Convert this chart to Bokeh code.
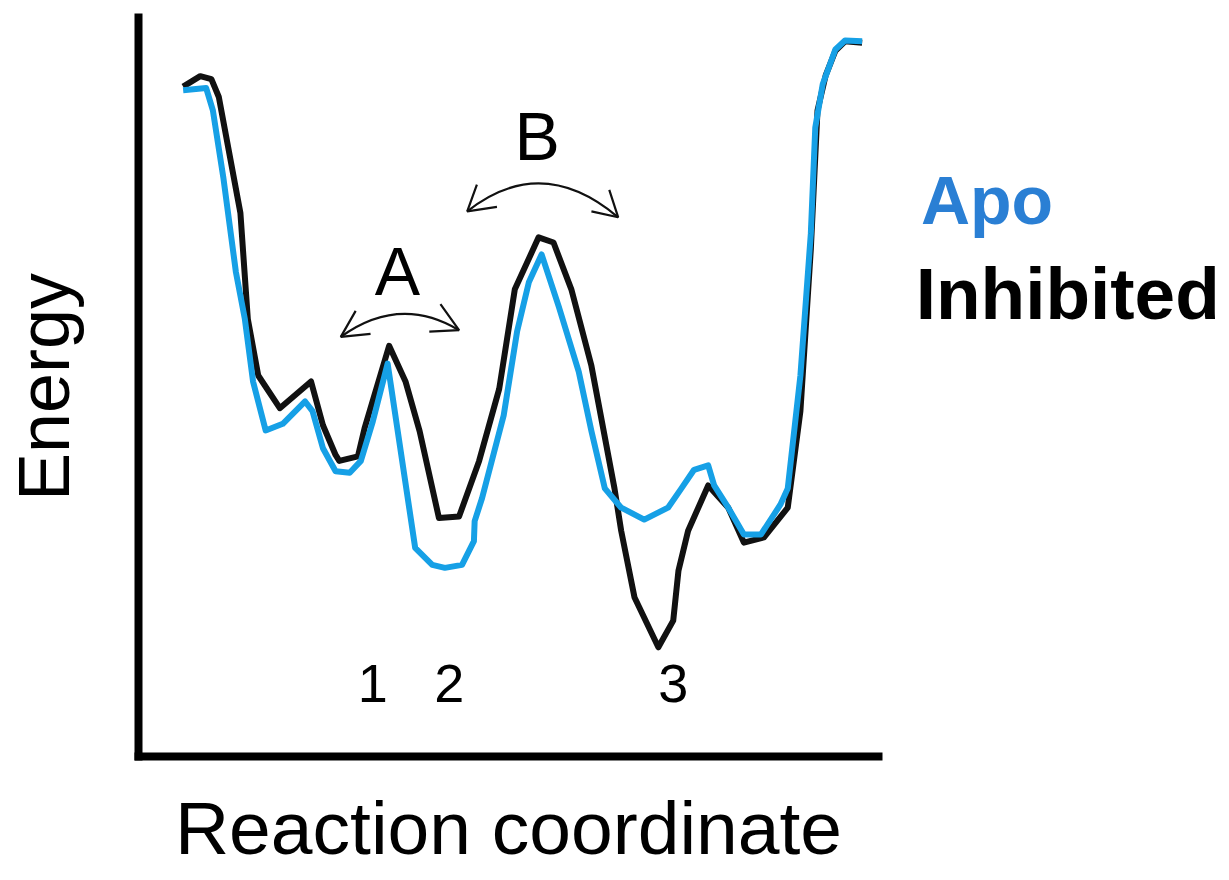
from bokeh.plotting import figure
from bokeh.models import Range1d, Label, ColumnDataSource
from bokeh.layouts import row
from bokeh.core.properties import value
from bokeh.embed import file_html
from bokeh.resources import INLINE

# ---- data (reaction coordinate / energy, arbitrary units) ----
x_inhibited = [6.0, 8.3, 9.8, 10.8, 13.7, 14.7, 16.1, 19.0, 23.2, 24.8, 26.5, 27.0, 29.5, 30.4,
               33.7, 35.9, 37.8, 40.4, 43.1, 45.8, 48.5, 50.6, 53.8, 55.8, 58.2, 60.9, 64.0,
               64.9, 66.7, 69.9, 71.9, 72.6, 73.9, 76.6, 79.3, 81.4, 84.1, 87.3, 89.0, 90.4,
               91.3, 92.4, 93.7, 95.0, 97.3]
e_inhibited = [90.2, 91.6, 91.2, 88.8, 73.2, 58.9, 51.3, 46.9, 50.5, 44.6, 40.6, 39.8, 40.4, 44.2,
               55.3, 50.5, 43.8, 32.1, 32.3, 39.8, 49.5, 62.9, 69.9, 69.2, 62.9, 52.6, 36.1,
               30.4, 21.4, 14.7, 18.3, 25.0, 30.4, 36.5, 33.5, 28.8, 29.5, 33.5, 46.5, 68.3,
               87.0, 91.7, 95.0, 96.3, 96.1]

x_apo = [6.0, 9.1, 10.0, 11.4, 13.1, 14.3, 15.4, 17.1, 19.4, 22.4, 23.4, 24.8, 26.5, 28.4, 29.9,
         31.5, 33.5, 37.2, 39.5, 41.2, 43.5, 45.1, 45.2, 46.2, 49.1, 50.9, 52.5, 54.2, 56.5,
         59.2, 60.9, 62.7, 64.9, 68.0, 71.2, 73.0, 74.7, 76.6, 77.4, 79.3, 81.4, 83.7, 86.3,
         87.3, 89.0, 90.4, 91.0, 92.0, 93.7, 95.0, 97.3]
e_apo = [89.7, 90.0, 87.0, 78.0, 65.2, 58.9, 50.5, 43.9, 44.8, 47.8, 46.5, 41.5, 38.4, 38.2, 39.8,
         45.1, 52.9, 28.1, 25.8, 25.4, 25.8, 29.0, 31.7, 34.8, 45.9, 57.2, 63.9, 67.6, 60.6,
         51.8, 43.8, 36.1, 33.5, 31.9, 33.5, 36.1, 38.6, 39.2, 36.5, 33.5, 29.9, 29.9, 33.9,
         36.1, 51.3, 70.4, 84.7, 90.5, 95.2, 96.4, 96.3]

state_labels = ["1", "2", "3"]
state_x = [31.5, 41.8, 71.9]
state_y = [9.8, 9.8, 9.8]

transition_labels = ["A", "B"]
transition_x = [34.8, 53.6]
transition_y = [65.4, 83.6]

# curved double arrows: start, end, control point
arc_x0 = [27.2, 44.2]
arc_y0 = [56.5, 73.4]
arc_x1 = [43.1, 64.5]
arc_y1 = [57.4, 72.6]
arc_cx = [35.1, 54.2]
arc_cy = [62.2, 81.3]
# arrow-head strokes (barb -> tip -> barb)
head_xs = [[29.2, 27.2, 31.2], [40.6, 43.1, 39.1], [45.5, 44.2, 48.2], [63.3, 64.5, 60.9]]
head_ys = [[60.0, 56.5, 56.9], [60.9, 57.4, 57.2], [77.0, 73.4, 74.0], [76.3, 72.6, 73.4]]

legend_labels = ["Apo", "Inhibited"]
legend_colors = ["#2a7fd4", "black"]
legend_sizes = ["68px", "73px"]
legend_x = [4.6, 3.9]
legend_y = [74.9, 62.3]

BLUE = "#16a0e6"
FONT = "Liberation Sans"

# ---------------- main chart ----------------
p = figure(width=886, height=872, output_backend="svg", toolbar_location=None,
           x_range=Range1d(0, 99.5), y_range=Range1d(0, 99.5),
           min_border_left=135, min_border_right=8, min_border_top=17, min_border_bottom=112,
           background_fill_color="white", border_fill_color="white",
           x_axis_label="Reaction coordinate", y_axis_label="Energy")
p.outline_line_color = None
p.grid.visible = False
for ax in (p.xaxis, p.yaxis):
    ax.ticker = []
    ax.major_label_text_font_size = "0px"
    ax.major_tick_line_color = None
    ax.minor_tick_line_color = None
    ax.major_tick_out = 0
    ax.major_tick_in = 0
    ax.major_label_standoff = 0
    ax.axis_line_width = 8
    ax.axis_line_color = "black"
    ax.axis_line_cap = "square"
    ax.axis_label_text_font = FONT
    ax.axis_label_text_font_style = "normal"
    ax.axis_label_text_color = "black"
p.xaxis.axis_label_text_font_size = "75px"
p.yaxis.axis_label_text_font_size = "72px"
p.xaxis.axis_label_standoff = 29
p.yaxis.axis_label_standoff = 55

p.line(x_inhibited, e_inhibited, line_color="#111111", line_width=6, line_join="round")
p.line(x_apo, e_apo, line_color=BLUE, line_width=6, line_join="round")

p.quadratic(x0=arc_x0, y0=arc_y0, x1=arc_x1, y1=arc_y1, cx=arc_cx, cy=arc_cy,
            line_color="#111111", line_width=2.2)
p.multi_line(head_xs, head_ys, line_color="#111111", line_width=2.2)

for t, x, y in zip(state_labels, state_x, state_y):
    p.add_layout(Label(x=x, y=y, text=t, text_align="center", text_baseline="alphabetic",
                       text_font=FONT, text_font_size="54px", text_color="black"))
for t, x, y in zip(transition_labels, transition_x, transition_y):
    p.add_layout(Label(x=x, y=y, text=t, text_align="center", text_baseline="alphabetic",
                       text_font=FONT, text_font_size="68px", text_color="black"))

# ---------------- legend panel (series names as coloured text) ----------------
q = figure(width=335, height=872, output_backend="svg", toolbar_location=None,
           x_range=Range1d(0, 44.8), y_range=Range1d(0, 99.5),
           min_border_left=0, min_border_right=0, min_border_top=17, min_border_bottom=112,
           background_fill_color="white", border_fill_color="white")
q.axis.visible = False
q.grid.visible = False
q.outline_line_color = None
src = ColumnDataSource(dict(x=legend_x, y=legend_y, text=legend_labels,
                            color=legend_colors, size=legend_sizes))
q.text(x="x", y="y", text="text", text_color="color", text_font_size="size",
       text_font=value(FONT), text_font_style="bold", text_align="left",
       text_baseline="alphabetic", source=src)

layout = row(p, q, spacing=0)
open("out.html", "w").write(file_html(layout, INLINE))
